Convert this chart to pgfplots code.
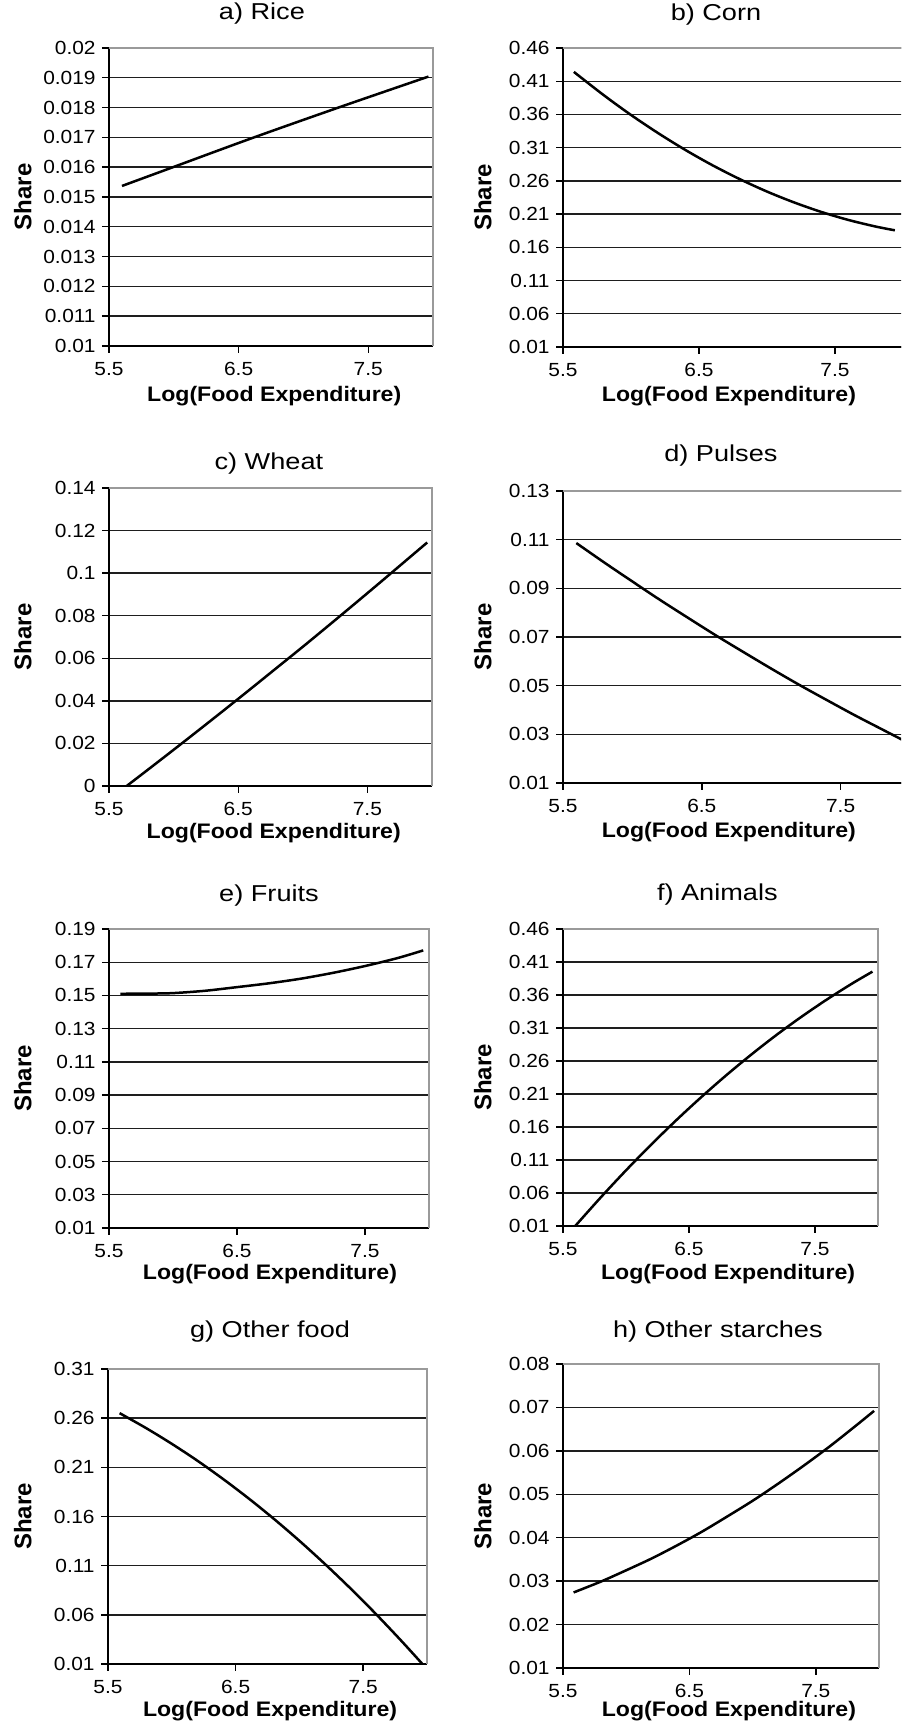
\documentclass[border=0pt]{standalone}
\usepackage{fontspec}
\setmainfont{Liberation Sans}[FakeStretch=1.1]
\newfontfamily\titlefont{Liberation Sans}[FakeStretch=1.18]
\newfontfamily\sharefont{Liberation Sans}
\usepackage{pgfplots}
\pgfplotsset{compat=1.18}
\definecolor{gridc}{HTML}{1E1E1E}
\definecolor{framec}{HTML}{9A9A9A}
\pgfplotsset{
  panel/.style={
    scale only axis, anchor=south west, clip=false,
    xmin=5.5, xmax=8, xtick={5.5,6.5,7.5}, xticklabels={5.5,6.5,7.5},
    scaled y ticks=false, scaled x ticks=false,
    axis lines*=left, axis line style={black, line width=0.75pt},
    tick align=outside, major tick length=3.5pt,
    tick style={black, line width=0.7pt},
    ymajorgrids, grid style={gridc, line width=0.7pt},
    tick label style={font=\fontsize{9.5}{11}\selectfont},
    /pgf/number format/assume math mode=true,
    yticklabel style={anchor=east, inner sep=0pt, xshift=-3pt},
    xticklabel style={anchor=north, inner sep=0pt, yshift=-4.5pt},
    title style={font=\titlefont\fontsize{11.5}{13}\selectfont, anchor=base, inner sep=0pt},
    xlabel={Log(Food Expenditure)},
    xlabel style={font=\bfseries\fontsize{10.5}{12}\selectfont, anchor=base, inner sep=0pt},
    ylabel={Share},
    ylabel style={font=\sharefont\bfseries\fontsize{12}{14}\selectfont, anchor=south, inner sep=0pt},
  },
  curve/.style={black, line width=1.25pt, smooth, tension=0.5, mark=none, line join=round},
  tpos/.style 2 args={title style={at={(axis description cs:#1,1)}, yshift=#2}},
  xlpos/.style 2 args={xlabel style={at={(axis description cs:#1,0)}, yshift=-#2}},
  ylpos/.style={ylabel style={at={(axis description cs:-#1,0.5)}}},
}
\newcommand{\frameTR}{\draw[framec, line width=0.6pt] (rel axis cs:0,1) -- (rel axis cs:1,1) -- (rel axis cs:1,0);}
\begin{document}
\begin{tikzpicture}
\path[use as bounding box] (0,0) rectangle (450.5pt,862pt);
\clip (0,0) rectangle (450.5pt,862pt);

% a) Rice
\begin{axis}[panel, at={(54.5pt,689pt)}, width=162pt, height=149pt,
  ymin=0.01, ymax=0.02,
  ytick={0.01,0.011,0.012,0.013,0.014,0.015,0.016,0.017,0.018,0.019,0.02},
  yticklabels={0.01,0.011,0.012,0.013,0.014,0.015,0.016,0.017,0.018,0.019,0.02},
  title={a) Rice}, tpos={0.472}{8.2pt}, xlpos={0.51}{27.8pt}, ylpos={0.2377}]
\frameTR
\addplot[curve] coordinates {(5.6,0.01537) (6.0,0.01601) (6.6,0.01697) (7.27,0.01800) (7.965,0.01904)};
\end{axis}

% b) Corn
\begin{axis}[panel, at={(281.5pt,688.5pt)}, width=170pt, height=149.5pt,
  ymin=0.01, ymax=0.46,
  ytick={0.01,0.06,0.11,0.16,0.21,0.26,0.31,0.36,0.41,0.46},
  yticklabels={0.01,0.06,0.11,0.16,0.21,0.26,0.31,0.36,0.41,0.46},
  title={b) Corn}, tpos={0.45}{7.8pt}, xlpos={0.488}{27.5pt}, ylpos={0.2088}]
\frameTR
\addplot[curve] coordinates {(5.58,0.424) (5.8,0.3889) (6.0,0.3592) (6.2,0.3318) (6.4,0.3065) (6.6,0.2834) (6.8,0.2626) (7.0,0.2439) (7.2,0.2275) (7.4,0.2132) (7.6,0.2011) (7.8,0.1912) (7.94,0.1856)};
\end{axis}

% c) Wheat
\begin{axis}[panel, at={(54.5pt,469pt)}, width=161.5pt, height=149pt,
  ymin=0, ymax=0.14,
  ytick={0,0.02,0.04,0.06,0.08,0.1,0.12,0.14},
  yticklabels={0,0.02,0.04,0.06,0.08,0.1,0.12,0.14},
  title={c) Wheat}, tpos={0.495}{3.3pt}, xlpos={0.51}{26.2pt}, ylpos={0.2384}]
\frameTR
\addplot[curve] coordinates {(5.637,0) (5.8,0.0076) (6.0,0.0170) (6.2,0.0265) (6.4,0.0361) (6.6,0.0458) (6.8,0.0556) (7.0,0.0654) (7.2,0.0754) (7.4,0.0855) (7.6,0.0957) (7.8,0.1060) (7.963,0.1144)};
\end{axis}

% d) Pulses
\begin{axis}[panel, at={(281.5pt,470.5pt)}, width=173.5pt, height=146pt,
  ymin=0.01, ymax=0.13,
  ytick={0.01,0.03,0.05,0.07,0.09,0.11,0.13},
  yticklabels={0.01,0.03,0.05,0.07,0.09,0.11,0.13},
  title={d) Pulses}, tpos={0.455}{8.8pt}, xlpos={0.478}{27.5pt}, ylpos={0.2046}]
\frameTR
\addplot[curve] coordinates {(5.596,0.1086) (5.8,0.1005) (6.0,0.0928) (6.2,0.0852) (6.4,0.0779) (6.6,0.0707) (6.8,0.0638) (7.0,0.0570) (7.2,0.0504) (7.4,0.0441) (7.6,0.0379) (7.8,0.0320) (7.97,0.0270)};
\end{axis}

% e) Fruits
\begin{axis}[panel, at={(54.5pt,248pt)}, width=160pt, height=149.5pt,
  ymin=0.01, ymax=0.19,
  ytick={0.01,0.03,0.05,0.07,0.09,0.11,0.13,0.15,0.17,0.19},
  yticklabels={0.01,0.03,0.05,0.07,0.09,0.11,0.13,0.15,0.17,0.19},
  title={e) Fruits}, tpos={0.5}{7.8pt}, xlpos={0.503}{25.8pt}, ylpos={0.2406}]
\frameTR
\addplot[curve] coordinates {(5.588,0.151) (5.8,0.1511) (6.0,0.1514) (6.25,0.1528) (6.5,0.155) (6.75,0.1573) (7.0,0.1601) (7.25,0.1636) (7.5,0.1677) (7.75,0.1724) (7.955,0.1771)};
\end{axis}

% f) Animals
\begin{axis}[panel, at={(281.5pt,249pt)}, width=157.5pt, height=148.5pt,
  ymin=0.01, ymax=0.46,
  ytick={0.01,0.06,0.11,0.16,0.21,0.26,0.31,0.36,0.41,0.46},
  yticklabels={0.01,0.06,0.11,0.16,0.21,0.26,0.31,0.36,0.41,0.46},
  title={f) Animals}, tpos={0.49}{8.2pt}, xlpos={0.524}{26.7pt}, ylpos={0.2254}]
\frameTR
\addplot[curve] coordinates {(5.597,0.01) (5.8,0.0534) (6.0,0.0943) (6.2,0.1333) (6.4,0.1705) (6.6,0.2057) (6.8,0.2391) (7.0,0.2706) (7.2,0.3003) (7.4,0.3280) (7.6,0.3539) (7.8,0.3780) (7.956,0.3954)};
\end{axis}

% g) Other food
\begin{axis}[panel, at={(54pt,30pt)}, width=159.5pt, height=147.5pt,
  ymin=0.01, ymax=0.31,
  ytick={0.01,0.06,0.11,0.16,0.21,0.26,0.31},
  yticklabels={0.01,0.06,0.11,0.16,0.21,0.26,0.31},
  title={g) Other food}, tpos={0.508}{10pt}, xlpos={0.508}{26.2pt}, ylpos={0.2382}]
\frameTR
\addplot[curve] coordinates {(5.591,0.2651) (5.8,0.2498) (6.0,0.2339) (6.2,0.2168) (6.4,0.1983) (6.6,0.1786) (6.8,0.1576) (7.0,0.1353) (7.2,0.1117) (7.4,0.0869) (7.6,0.0608) (7.8,0.0334) (7.964,0.01)};
\end{axis}

% h) Other starches
\begin{axis}[panel, at={(281.5pt,28pt)}, width=158pt, height=152pt,
  ymin=0.01, ymax=0.08,
  ytick={0.01,0.02,0.03,0.04,0.05,0.06,0.07,0.08},
  yticklabels={0.01,0.02,0.03,0.04,0.05,0.06,0.07,0.08},
  title={h) Other starches}, tpos={0.49}{7.5pt}, xlpos={0.525}{24.5pt}, ylpos={0.2247}]
\frameTR
\addplot[curve] coordinates {(5.584,0.0274) (5.8,0.0299) (6.0,0.0325) (6.2,0.0352) (6.4,0.0382) (6.6,0.0414) (6.8,0.0449) (7.0,0.0485) (7.2,0.0524) (7.4,0.0565) (7.6,0.0608) (7.8,0.0654) (7.961,0.0692)};
\end{axis}
\end{tikzpicture}
\end{document}
